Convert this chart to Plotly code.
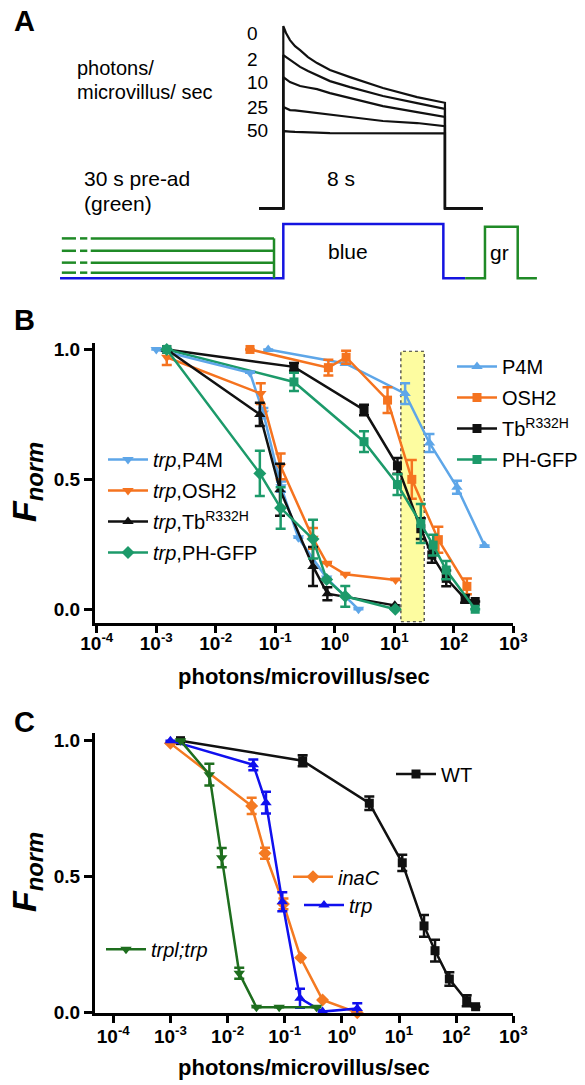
import plotly.graph_objects as go

W, H = 585, 1085
FONT = "Liberation Sans, Arial, sans-serif"

# ---------------- Panel A data (schematic recordings) ----------------
resp_t = [0, 0.134, 0.33, 0.58, 0.83, 1.22, 1.67, 2.31, 3.30, 4.93, 6.62, 8.0]
resp_labels = ["0", "2", "10", "25", "50"]
resp_vals = {
    "0":  [1.000, 0.962, 0.923, 0.890, 0.868, 0.830, 0.797, 0.759, 0.720, 0.660, 0.610, 0.579],
    "2":  [0.841, 0.830, 0.814, 0.794, 0.776, 0.753, 0.732, 0.698, 0.665, 0.616, 0.577, 0.545],
    "10": [0.720, 0.709, 0.693, 0.682, 0.671, 0.663, 0.654, 0.632, 0.605, 0.561, 0.528, 0.502],
    "25": [0.556, 0.548, 0.539, 0.537, 0.534, 0.528, 0.523, 0.512, 0.501, 0.479, 0.468, 0.451],
    "50": [0.424, 0.424, 0.421, 0.419, 0.419, 0.416, 0.415, 0.413, 0.413, 0.413, 0.410, 0.411],
}
base_pre, base_post = -1.2, 9.88
blue_t = [-11.05, 0, 0, 7.92, 7.92, 9.0]
blue_lvl = [-0.384, -0.384, -0.086, -0.086, -0.384, -0.384]
green_levels = [-0.165, -0.233, -0.298, -0.353]
green_solid = [-9.53, -0.46]
green_dashes = [[-10.96, -10.26], [-10.06, -9.70]]
gr_t = [9.0, 9.98, 9.98, 11.6, 11.6, 12.55]
gr_lvl = [-0.384, -0.384, -0.101, -0.101, -0.384, -0.384]

# ---------------- Panel B data ----------------
trpP4M_x = [0.001, 0.0376, 0.063, 0.125, 0.244, 0.73, 2.5]
trpP4M_y = [1.0, 0.91, 0.755, 0.472, 0.275, 0.12, 0.0]
trpP4M_e = [None, None, 0.02, 0.02, None, None, None]

trpOSH2_x = [0.0015, 0.057, 0.123, 0.43, 0.74, 1.5, 10.5]
trpOSH2_y = [0.97, 0.83, 0.55, 0.273, 0.177, 0.135, 0.113]
trpOSH2_e = [0.03, 0.04, 0.05, 0.04, None, None, None]

trpTb_x = [0.0015, 0.055, 0.12, 0.43, 0.75, 10.2]
trpTb_y = [1.0, 0.75, 0.46, 0.165, 0.06, 0.015]
trpTb_e = [None, 0.045, 0.1, 0.075, 0.025, None]

trpPH_x = [0.0015, 0.055, 0.123, 0.43, 0.73, 1.5, 10.4]
trpPH_y = [1.0, 0.523, 0.39, 0.27, 0.115, 0.05, 0.0]
trpPH_e = [None, 0.087, 0.08, 0.075, None, 0.04, None]

P4M_x = [0.076, 1.5, 15.2, 39, 113, 329]
P4M_y = [1.0, 0.946, 0.83, 0.64, 0.47, 0.245]
P4M_e = [None, None, 0.04, 0.035, 0.025, None]

OSH2_x = [0.0376, 0.78, 1.55, 7.7, 19.7, 55, 166]
OSH2_y = [1.0, 0.93, 0.97, 0.805, 0.5, 0.268, 0.088]
OSH2_e = [None, 0.03, 0.025, 0.05, 0.075, 0.05, 0.03]

Tb_x = [0.0015, 0.206, 3.1, 11.3, 27.9, 42.7, 74.6, 155, 229]
Tb_y = [1.0, 0.933, 0.767, 0.552, 0.31, 0.209, 0.119, 0.04, 0.03]
Tb_e = [None, 0.015, 0.02, 0.03, 0.04, 0.03, 0.03, 0.015, None]

PH_x = [0.0015, 0.206, 3.1, 11.3, 27.9, 45, 74.6, 229]
PH_y = [1.0, 0.875, 0.645, 0.48, 0.33, 0.247, 0.151, 0.0]
PH_e = [None, 0.035, 0.04, 0.04, 0.075, 0.04, 0.035, None]

highlight_x = [12.9, 31.8]
highlight_y = [-0.048, 0.993]

# ---------------- Panel C data ----------------
WT_x = [0.0015, 0.206, 3.02, 11.4, 27.4, 42.7, 76, 153, 219]
WT_y = [1.0, 0.926, 0.77, 0.551, 0.319, 0.228, 0.124, 0.044, 0.022]
WT_e = [None, 0.02, 0.025, 0.03, 0.04, 0.04, 0.025, 0.02, None]

inaC_x = [0.001, 0.0264, 0.0452, 0.095, 0.19, 0.46, 1.86]
inaC_y = [0.99, 0.76, 0.586, 0.40, 0.202, 0.047, 0.0]
inaC_e = [None, 0.03, 0.02, 0.02, None, None, None]

trp_x = [0.001, 0.0282, 0.047, 0.0907, 0.185, 0.46, 1.86]
trp_y = [1.0, 0.911, 0.772, 0.408, 0.053, 0.004, 0.015]
trp_e = [None, 0.02, 0.04, 0.035, 0.035, None, 0.02]

trpl_x = [0.0015, 0.0048, 0.0079, 0.016, 0.032, 0.080, 0.36]
trpl_y = [1.0, 0.875, 0.57, 0.145, 0.02, 0.02, 0.02]
trpl_e = [None, 0.04, 0.035, 0.02, None, None, None]

x_tickvals = [1e-4, 1e-3, 1e-2, 1e-1, 1, 10, 100, 1000]
x_ticktext = ["10<sup>-4</sup>", "10<sup>-3</sup>", "10<sup>-2</sup>", "10<sup>-1</sup>",
              "10<sup>0</sup>", "10<sup>1</sup>", "10<sup>2</sup>", "10<sup>3</sup>"]
y_tickvals = [0, 0.5, 1.0]
y_ticktext = ["0.0", "0.5", "1.0"]

# colours
LBLUE = "#5ea6e8"
ORANGE = "#f5731f"
BLACK = "#111111"
TEAL = "#1c9a6a"
BLUE_C = "#1010ee"
ORANGE_C = "#f47a22"
DKGREEN = "#1e6e1e"
STIM_BLUE = "#1414e0"
STIM_GREEN = "#1f8a26"


def px_x(p):
    return p / W


def px_y(p):
    return 1 - p / H


fig = go.Figure()

# ---------- Panel A ----------
for lab in resp_labels:
    xs = [base_pre, 0] + resp_t + [resp_t[-1], base_post]
    ys = [0, 0] + resp_vals[lab] + [0, 0]
    fig.add_trace(go.Scatter(x=xs, y=ys, xaxis="x3", yaxis="y3", mode="lines",
                             line=dict(color=BLACK, width=2.2), showlegend=False,
                             hoverinfo="skip"))
fig.add_trace(go.Scatter(x=blue_t, y=blue_lvl, xaxis="x3", yaxis="y3", mode="lines",
                         line=dict(color=STIM_BLUE, width=2.5), showlegend=False))
for lv in green_levels:
    fig.add_trace(go.Scatter(x=green_solid, y=[lv, lv], xaxis="x3", yaxis="y3", mode="lines",
                             line=dict(color=STIM_GREEN, width=2.5), showlegend=False))
    for d in green_dashes:
        fig.add_trace(go.Scatter(x=d, y=[lv, lv], xaxis="x3", yaxis="y3", mode="lines",
                                 line=dict(color=STIM_GREEN, width=2.5), showlegend=False))
fig.add_trace(go.Scatter(x=[green_solid[1], green_solid[1]], y=[green_levels[0], blue_lvl[0]],
                         xaxis="x3", yaxis="y3", mode="lines",
                         line=dict(color=STIM_GREEN, width=2.5), showlegend=False))
fig.add_trace(go.Scatter(x=gr_t, y=gr_lvl, xaxis="x3", yaxis="y3", mode="lines",
                         line=dict(color=STIM_GREEN, width=2.5), showlegend=False))


def series(x, y, e, color, symbol, name, xa, ya, legend, size=9):
    return go.Scatter(
        x=x, y=y, xaxis=xa, yaxis=ya, mode="lines+markers", name=name,
        line=dict(color=color, width=2.5),
        marker=dict(color=color, symbol=symbol, size=size, line=dict(width=0)),
        error_y=dict(type="data", array=e, visible=True, color=color, thickness=2.5, width=5),
        legend=legend, legendgroup=name, cliponaxis=False)


# ---------- Panel B ----------
fig.add_trace(series(P4M_x, P4M_y, P4M_e, LBLUE, "triangle-up", "P4M", "x", "y", "legend", 10))
fig.add_trace(series(OSH2_x, OSH2_y, OSH2_e, ORANGE, "square", "OSH2", "x", "y", "legend"))
fig.add_trace(series(Tb_x, Tb_y, Tb_e, BLACK, "square", "Tb<sup>R332H</sup>", "x", "y", "legend"))
fig.add_trace(series(PH_x, PH_y, PH_e, TEAL, "square", "PH-GFP", "x", "y", "legend"))
fig.add_trace(series(trpP4M_x, trpP4M_y, trpP4M_e, LBLUE, "triangle-down", "<i>trp</i>,P4M", "x", "y", "legend2", 10))
fig.add_trace(series(trpOSH2_x, trpOSH2_y, trpOSH2_e, ORANGE, "triangle-down", "<i>trp</i>,OSH2", "x", "y", "legend2", 10))
fig.add_trace(series(trpTb_x, trpTb_y, trpTb_e, BLACK, "triangle-up", "<i>trp</i>,Tb<sup>R332H</sup>", "x", "y", "legend2", 10))
fig.add_trace(series(trpPH_x, trpPH_y, trpPH_e, TEAL, "diamond", "<i>trp</i>,PH-GFP", "x", "y", "legend2", 10))

# ---------- Panel C ----------
fig.add_trace(series(WT_x, WT_y, WT_e, BLACK, "square", "WT", "x2", "y2", "legend3"))
fig.add_trace(series(inaC_x, inaC_y, inaC_e, ORANGE_C, "diamond", "<i>inaC</i>", "x2", "y2", "legend4", 10))
fig.add_trace(series(trp_x, trp_y, trp_e, BLUE_C, "triangle-up", "<i>trp</i>", "x2", "y2", "legend5", 10))
fig.add_trace(series(trpl_x, trpl_y, trpl_e, DKGREEN, "triangle-down", "<i>trpl;trp</i>", "x2", "y2", "legend6", 10))

# highlight box
fig.add_shape(type="rect", xref="x", yref="y", x0=highlight_x[0], x1=highlight_x[1],
              y0=highlight_y[0], y1=highlight_y[1], fillcolor="#fdfca0",
              line=dict(color="#333333", width=1.2, dash="dot"), layer="below")

tickfont = dict(family=FONT, size=19, color="black", weight="bold")
common_x = dict(type="log", showgrid=False, zeroline=False, showline=True, linewidth=3,
                linecolor="black", ticks="outside", ticklen=7, tickwidth=3, tickcolor="black",
                tickvals=x_tickvals, ticktext=x_ticktext, tickfont=tickfont, automargin=False)
common_y = dict(showgrid=False, zeroline=False, showline=True, linewidth=3, linecolor="black",
                ticks="outside", ticklen=8, tickwidth=3, tickcolor="black",
                tickvals=y_tickvals, ticktext=y_ticktext, tickfont=tickfont, automargin=False)

legend_base = dict(font=dict(family=FONT, size=20, color="black"), bgcolor="rgba(0,0,0,0)",
                   borderwidth=0, itemwidth=40, tracegroupgap=2, traceorder="grouped",
                   xanchor="left", yanchor="middle")

fig.update_layout(
    template="none",
    width=W, height=H, margin=dict(l=0, r=0, t=0, b=0, pad=0, autoexpand=False),
    paper_bgcolor="white", plot_bgcolor="rgba(0,0,0,0)",
    font=dict(family=FONT, color="black"),
    xaxis=dict(common_x, domain=[px_x(95), px_x(513.3)], range=[-4.03, 3], anchor="y",
               ticklabelstandoff=-6),
    yaxis=dict(common_y, domain=[px_y(623.3), px_y(342.7)], range=[-0.054, 1.026], anchor="x"),
    xaxis2=dict(common_x, domain=[px_x(95), px_x(513.3)], range=[-4.32, 3], anchor="y2",
                ticklabelstandoff=-3),
    yaxis2=dict(common_y, domain=[px_y(1012.7), px_y(733.3)], range=[0, 1.027], anchor="x2"),
    xaxis3=dict(domain=[0, 1], range=[-14.02, 14.93], visible=False, anchor="y3", automargin=False),
    yaxis3=dict(domain=[px_y(300), 1], range=[-0.503, 1.143], visible=False, anchor="x3", automargin=False),
    legend=dict(legend_base, x=px_x(452), y=px_y(413)),
    legend2=dict(legend_base, x=px_x(103), y=px_y(506)),
    legend3=dict(legend_base, x=px_x(391), y=px_y(774)),
    legend4=dict(legend_base, x=px_x(288), y=px_y(876.7)),
    legend5=dict(legend_base, x=px_x(299), y=px_y(905)),
    legend6=dict(legend_base, x=px_x(101), y=px_y(949.3)),
)

ann = []


def txt(text, x, y, size=20, xanchor="left", bold=False, angle=0):
    ann.append(dict(text=text, x=px_x(x), y=px_y(y), xref="paper", yref="paper",
                    xanchor=xanchor, yanchor="middle", showarrow=False, textangle=angle,
                    font=dict(family=FONT, size=size, color="black",
                              weight="bold" if bold else "normal")))


# panel letters
txt("A", 12, 21, 29, bold=True)
txt("B", 12, 320, 29, bold=True)
txt("C", 12, 722, 29, bold=True)
# panel A labels
for lab, yy in zip(resp_labels, [33.3, 59.3, 82.7, 107.3, 130.7]):
    txt(lab, 245, yy, 19)
txt("photons/", 75, 68, 20)
txt("microvillus/ sec", 75, 92, 20)
txt("30 s pre-ad", 82, 178, 21)
txt("(green)", 82, 203, 21)
txt("8 s", 325, 178, 21)
txt("blue", 326, 251, 21)
txt("gr", 488, 252, 21)
# axis titles
txt("photons/microvillus/sec", 304, 676, 22, xanchor="center", bold=True)
txt("photons/microvillus/sec", 304, 1067, 22, xanchor="center", bold=True)
fn = "<b><i>F</i></b><sub><b><i>norm</i></b></sub>"
for yy in [482, 872]:
    ann.append(dict(text=fn, x=px_x(26), y=px_y(yy), xref="paper", yref="paper",
                    xanchor="center", yanchor="middle", showarrow=False, textangle=-90,
                    font=dict(family=FONT, size=34, color="black")))

fig.update_layout(annotations=ann)
fig.write_html("out.html", config={"displayModeBar": False},
               post_script="document.body.style.margin='0px';")
